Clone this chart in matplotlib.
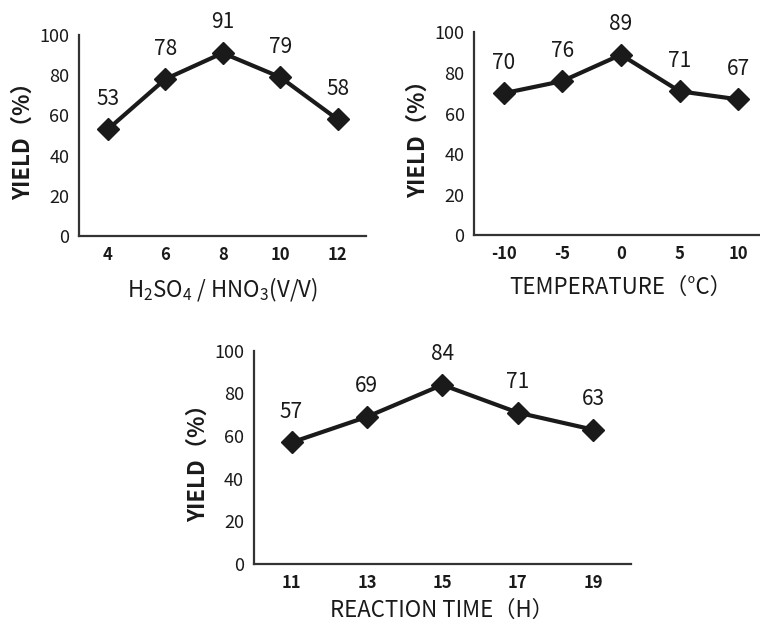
import matplotlib
matplotlib.use("Agg")
import matplotlib.pyplot as plt

plt.rcParams['font.family'] = ['Noto Sans CJK SC', 'DejaVu Sans']
plt.rcParams['mathtext.default'] = 'regular'

# data
ratio_ticks = ['4', '6', '8', '10', '12']
ratio_yield = [53, 78, 91, 79, 58]

temp_ticks = ['-10', '-5', '0', '5', '10']
temp_yield = [70, 76, 89, 71, 67]

time_ticks = ['11', '13', '15', '17', '19']
time_yield = [57, 69, 84, 71, 63]

ink = '#1a1a1a'


def panel(ax, ticks, values, xlabel, xpad=9):
    xs = list(range(len(ticks)))
    ax.plot(xs, values, color=ink, lw=3, marker='D', markersize=11)
    for x, v in zip(xs, values):
        ax.annotate(str(v), (x, v), xytext=(0, 22), textcoords='offset points',
                    ha='center', va='center', fontsize=15, color=ink)
    ax.set_xlim(-0.5, len(ticks) - 0.5)
    ax.set_ylim(0, 100)
    ax.set_yticks(range(0, 101, 20))
    ax.set_xticks(xs)
    ax.set_xticklabels(ticks, fontweight='bold')
    ax.tick_params(axis='both', length=0, colors=ink)
    ax.tick_params(axis='y', labelsize=13, pad=7)
    ax.tick_params(axis='x', labelsize=12, pad=7)
    for s in ['top', 'right']:
        ax.spines[s].set_visible(False)
    for s in ['left', 'bottom']:
        ax.spines[s].set_color('#333333')
        ax.spines[s].set_linewidth(1.6)
    ax.set_ylabel('YIELD（%）', fontsize=16, fontweight='bold', color=ink, labelpad=3)
    ax.set_xlabel(xlabel, fontsize=16, color=ink, labelpad=xpad)
    ax.set_facecolor('white')


fig = plt.figure(figsize=(7.6, 6.24), dpi=100)
ax1 = fig.add_axes([0.104, 0.622, 0.378, 0.322])
ax2 = fig.add_axes([0.624, 0.623, 0.386, 0.325])
ax3 = fig.add_axes([0.334, 0.096, 0.496, 0.342])

panel(ax1, ratio_ticks, ratio_yield, 'H$_2$SO$_4$ / HNO$_3$(V/V)')
panel(ax2, temp_ticks, temp_yield, 'TEMPERATURE（°C）')
panel(ax3, time_ticks, time_yield, 'REACTION TIME（H）', xpad=5)

fig.savefig('out.png', dpi=100, facecolor='white')
